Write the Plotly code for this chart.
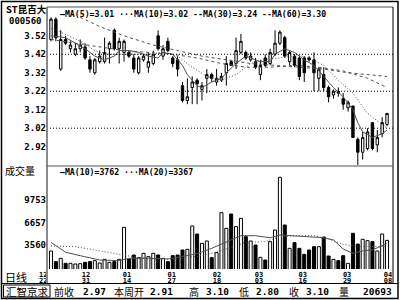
import plotly.graph_objects as go

# ---------------- data ----------------
stock_name = "ST昆百大"
stock_code = "000560"

opens = [3.50, 3.61, 3.34, 3.50, 3.45, 3.42, 3.45, 3.46, 3.39, 3.32,
         3.38, 3.38, 3.45, 3.55, 3.45, 3.43, 3.43, 3.40, 3.32, 3.39,
         3.35, 3.37, 3.52, 3.41, 3.49, 3.40, 3.39, 3.25, 3.17, 3.24,
         3.28, 3.23, 3.29, 3.31, 3.27, 3.28, 3.32, 3.38, 3.37, 3.43,
         3.43, 3.39, 3.38, 3.31, 3.40, 3.37, 3.42, 3.48, 3.51, 3.38,
         3.41, 3.40, 3.40, 3.40, 3.39, 3.29, 3.31, 3.24, 3.20, 3.22,
         3.18, 3.13, 3.14, 2.96, 2.89, 2.91, 3.05, 2.93, 2.99, 3.04]
highs = [3.62, 3.62, 3.55, 3.52, 3.49, 3.48, 3.50, 3.48, 3.41, 3.40,
         3.44, 3.51, 3.49, 3.56, 3.51, 3.50, 3.44, 3.42, 3.41, 3.42,
         3.43, 3.44, 3.55, 3.47, 3.51, 3.41, 3.41, 3.27, 3.29, 3.30,
         3.29, 3.27, 3.34, 3.32, 3.34, 3.32, 3.41, 3.39, 3.51, 3.53,
         3.44, 3.43, 3.40, 3.39, 3.42, 3.45, 3.55, 3.55, 3.52, 3.44,
         3.42, 3.41, 3.41, 3.41, 3.43, 3.35, 3.35, 3.25, 3.23, 3.24,
         3.21, 3.17, 3.14, 2.97, 3.00, 3.02, 3.05, 3.01, 3.08, 3.10]
lows = [3.49, 3.49, 3.33, 3.47, 3.43, 3.41, 3.43, 3.39, 3.32, 3.31,
        3.37, 3.37, 3.37, 3.44, 3.37, 3.38, 3.40, 3.32, 3.31, 3.38,
        3.32, 3.36, 3.44, 3.39, 3.43, 3.35, 3.30, 3.16, 3.15, 3.15,
        3.15, 3.17, 3.21, 3.27, 3.25, 3.27, 3.25, 3.36, 3.34, 3.42,
        3.39, 3.38, 3.34, 3.28, 3.35, 3.36, 3.41, 3.47, 3.40, 3.36,
        3.35, 3.28, 3.27, 3.38, 3.22, 3.22, 3.22, 3.16, 3.18, 3.19,
        3.12, 3.11, 2.97, 2.82, 2.85, 2.90, 2.90, 2.89, 2.97, 3.03]
closes = [3.61, 3.51, 3.50, 3.48, 3.47, 3.45, 3.47, 3.40, 3.34, 3.39,
          3.41, 3.43, 3.48, 3.45, 3.49, 3.49, 3.41, 3.34, 3.40, 3.41,
          3.38, 3.42, 3.45, 3.45, 3.44, 3.37, 3.34, 3.17, 3.19, 3.27,
          3.26, 3.25, 3.31, 3.29, 3.29, 3.30, 3.37, 3.36, 3.44, 3.49,
          3.40, 3.41, 3.35, 3.36, 3.36, 3.43, 3.48, 3.54, 3.41, 3.43,
          3.36, 3.30, 3.32, 3.39, 3.32, 3.34, 3.24, 3.19, 3.22, 3.21,
          3.15, 3.16, 2.97, 2.89, 2.97, 3.00, 2.91, 2.97, 3.05, 3.10]
volumes = [2734, 1266, 1724, 1037, 1037, 945, 991, 1174, 1266, 1403,
           1083, 1587, 1174, 1266, 1587, 5990, 1633, 2183, 1816, 2413,
           1954, 2413, 2183, 1724, 1266, 2091, 2183, 2871, 2963, 6174,
           5073, 3788, 4110, 1816, 2504, 8009, 5853, 7825, 6082, 7229,
           4706, 4110, 3560, 1862, 1495, 4018, 5623, 12871, 6311, 3101,
           3880, 3101, 2275, 2871, 3330, 3330, 4660, 2046, 1587, 1403,
           2091, 1037, 5165, 3697, 4339, 4155, 4018, 2734, 5073, 4201]

# moving averages (bar index, value)
ma5_idx = [0, 3, 5, 7, 9, 11, 13, 14, 16, 18, 20, 22, 23, 25, 27, 28, 30, 31, 33, 35,
           36, 38, 40, 42, 43, 45, 46, 48, 50, 52, 54, 56, 58, 60, 62, 63, 64, 66, 68, 69]
ma5_val = [3.52, 3.51, 3.48, 3.45, 3.41, 3.39, 3.41, 3.44, 3.44, 3.43, 3.41, 3.40, 3.43, 3.42,
           3.36, 3.31, 3.25, 3.24, 3.27, 3.29, 3.32, 3.37, 3.41, 3.39, 3.38, 3.38, 3.42, 3.45,
           3.43, 3.39, 3.36, 3.30, 3.24, 3.19, 3.12, 3.05, 3.00, 2.97, 2.99, 3.01]
ma10_idx = [0, 2, 6, 9, 12, 16, 20, 23, 26, 29, 32, 35, 38, 41, 44, 47, 50, 53, 56, 59, 62, 65, 69]
ma10_val = [3.56, 3.54, 3.49, 3.44, 3.42, 3.42, 3.42, 3.43, 3.41, 3.35, 3.30, 3.28, 3.31, 3.37,
            3.39, 3.40, 3.42, 3.40, 3.36, 3.28, 3.21, 3.10, 3.02]
ma30_idx = [0, 5, 10, 15, 20, 25, 30, 35, 40, 45, 50, 55, 60, 65, 69]
ma30_val = [3.50, 3.48, 3.46, 3.44, 3.43, 3.42, 3.40, 3.37, 3.35, 3.35, 3.36, 3.35, 3.33, 3.29, 3.24]
ma60_idx = [6, 10, 15, 21, 26, 31, 36, 41, 46, 51, 56, 61, 66, 69]
ma60_val = [3.62, 3.57, 3.52, 3.47, 3.44, 3.41, 3.39, 3.37, 3.36, 3.35, 3.34, 3.32, 3.31, 3.30]

vma10_idx = [0, 3, 6, 10, 14, 16, 20, 24, 27, 30, 33, 36, 39, 42, 45, 47, 50, 53, 56, 58,
             60, 62, 64, 66, 69]
vma10_val = [3930, 2560, 2090, 1500, 1400, 1730, 1730, 1630, 2000, 2360, 3100, 3930, 4840,
             4840, 4560, 4940, 4840, 4750, 4560, 4250, 3010, 2420, 2740, 2880, 3762]
vma20_idx = [0, 5, 10, 14, 18, 22, 26, 30, 33, 36, 40, 44, 47, 50, 54, 57, 60, 63, 66, 69]
vma20_val = [3420, 3330, 2740, 2280, 1820, 1630, 1630, 2000, 2420, 3010, 3930, 4020, 4700,
             4840, 4840, 4390, 3650, 3330, 3330, 3367]

price_ticks = [3.52, 3.42, 3.32, 3.22, 3.12, 3.02, 2.92]
price_grid = [3.42, 3.22, 3.02]
vol_ticks = [3560, 6657, 9753]

date_months = ["12", "12", "01", "01", "02", "03", "03", "03", "04"]
date_days = ["22", "31", "14", "27", "18", "03", "16", "29", "08"]
date_pos = [-1.6, 7.2, 15.6, 24.8, 34.1, 42.7, 51.7, 60.8, 69.2]

price_legend = "—MA(5)=3.01 ···MA(10)=3.02 --MA(30)=3.24 --MA(60)=3.30"
vol_legend = "—MA(10)=3762 ···MA(20)=3367"

status_labels = ["前收", "本周开", "高", "低", "收", "量"]
status_values = ["2.97", "2.91", "3.10", "2.80", "3.10", "20693"]

# ---------------- geometry (pixels) ----------------
W, H = 400, 300
PX0, PX1 = 47, 393
PY0, PY1 = 7, 166
VY1 = 269
BAR0, STEP = 51, 4.87
P_REF, P_REF_Y, P_PER = 3.52, 35.8, 184.8
V_REF, V_REF_Y, V_PER = 3560, 245, 137.6


def fx(p):
    return p / W


def fy(p):
    return 1 - p / H


n = len(closes)
xs = list(range(n))
x_range = [(PX0 - BAR0) / STEP, (PX1 - BAR0) / STEP]
full_range = [(0 - BAR0) / STEP, (W - BAR0) / STEP]
p_range = [P_REF - (PY1 - P_REF_Y) / P_PER, P_REF + (P_REF_Y - PY0) / P_PER]
v_range = [V_REF - (VY1 - V_REF_Y) * V_PER, V_REF + (V_REF_Y - PY1) * V_PER]

MONO = "DejaVu Sans Mono"
CJK = "Noto Sans CJK SC"
LINEC = "#505050"

fig = go.Figure()

fig.add_trace(go.Candlestick(
    x=xs, open=opens, high=highs, low=lows, close=closes,
    increasing=dict(line=dict(color="black", width=1), fillcolor="white"),
    decreasing=dict(line=dict(color="black", width=1), fillcolor="black"),
    whiskerwidth=0, xaxis="x", yaxis="y", showlegend=False, hoverinfo="skip"))

for ix, val, dash in [(ma5_idx, ma5_val, "solid"), (ma10_idx, ma10_val, "1px,2px"),
                      (ma30_idx, ma30_val, "3px,3px"), (ma60_idx, ma60_val, "3px,3px")]:
    fig.add_trace(go.Scatter(x=ix, y=val, mode="lines", xaxis="x", yaxis="y",
                             line=dict(color=LINEC, width=1, dash=dash),
                             showlegend=False, hoverinfo="skip"))

vcolors = ["white" if c >= o else "black" for o, c in zip(opens, closes)]
fig.add_trace(go.Bar(x=xs, y=volumes, width=0.62, xaxis="x2", yaxis="y2",
                     marker=dict(color=vcolors, line=dict(color="black", width=1)),
                     showlegend=False, hoverinfo="skip"))
for ix, val, dash in [(vma10_idx, vma10_val, "solid"), (vma20_idx, vma20_val, "1px,2px")]:
    fig.add_trace(go.Scatter(x=ix, y=val, mode="lines", xaxis="x2", yaxis="y2",
                             line=dict(color=LINEC, width=1, dash=dash),
                             showlegend=False, hoverinfo="skip"))

# carriers for the two date-label rows
for ax in ["x3", "x4"]:
    fig.add_trace(go.Scatter(x=date_pos, y=[None] * len(date_pos), xaxis=ax, yaxis="y2",
                             mode="markers", showlegend=False, hoverinfo="skip"))

noax = dict(showgrid=False, zeroline=False, showline=False, fixedrange=True)
tickf = dict(family=MONO, size=9, color="black")
datef = dict(family=MONO, size=7, color="black")

fig.update_layout(
    width=W, height=H, margin=dict(l=0, r=0, t=0, b=0),
    paper_bgcolor="white", plot_bgcolor="rgba(0,0,0,0)", showlegend=False,
    xaxis=dict(domain=[fx(PX0), fx(PX1)], range=x_range, anchor="y", showticklabels=False,
               rangeslider=dict(visible=False), **noax),
    yaxis=dict(domain=[fy(PY1), fy(PY0)], range=p_range, anchor="x",
               tickvals=price_ticks, ticktext=[f"<b>{v:.2f}</b>" for v in price_ticks],
               tickfont=tickf, ticks="", **noax),
    xaxis2=dict(domain=[fx(PX0), fx(PX1)], range=x_range, anchor="y2", matches="x",
                showticklabels=False, **noax),
    yaxis2=dict(domain=[fy(VY1), fy(PY1)], range=v_range, anchor="x2",
                tickvals=vol_ticks, ticktext=[f"<b>{v}</b>" for v in vol_ticks],
                tickfont=tickf, ticks="", **noax),
    xaxis3=dict(domain=[0, 1], range=full_range, anchor="free", position=fy(268.5),
                tickvals=date_pos, ticktext=[f"<b>{m}</b>" for m in date_months],
                tickfont=datef, ticks="", tickangle=0, **noax),
    xaxis4=dict(domain=[0, 1], range=full_range, anchor="free", position=fy(275),
                tickvals=date_pos, ticktext=[f"<b>{d}</b>" for d in date_days],
                tickfont=datef, ticks="", tickangle=0, **noax),
)

shapes = []
# dotted price grid
for g in price_grid:
    shapes.append(dict(type="line", xref="x domain", yref="y", x0=0, x1=1, y0=g, y1=g,
                       line=dict(color="black", width=1, dash="1px,2px")))
# frames
shapes += [
    dict(type="rect", xref="paper", yref="paper", x0=fx(1.5), x1=fx(398), y0=fy(298.5), y1=fy(1.5),
         line=dict(color="black", width=1.5)),
    dict(type="line", xref="paper", yref="paper", x0=fx(PX0), x1=fx(PX0), y0=fy(283), y1=fy(PY0),
         line=dict(color="#8a8a8a", width=2)),
    dict(type="line", xref="paper", yref="paper", x0=fx(PX0), x1=fx(PX1), y0=fy(PY0), y1=fy(PY0),
         line=dict(color="#555555", width=1)),
    dict(type="line", xref="paper", yref="paper", x0=fx(PX1), x1=fx(PX1), y0=fy(283), y1=fy(PY0),
         line=dict(color="black", width=1)),
    dict(type="line", xref="paper", yref="paper", x0=fx(PX0), x1=fx(PX1), y0=fy(PY1), y1=fy(PY1),
         line=dict(color="#555555", width=1)),
    dict(type="line", xref="paper", yref="paper", x0=fx(1.5), x1=fx(398), y0=fy(283.5), y1=fy(283.5),
         line=dict(color="black", width=1)),
    dict(type="rect", xref="paper", yref="paper", x0=fx(3.5), x1=fx(50), y0=fy(297), y1=fy(285),
         line=dict(color="black", width=1)),
]

ann = []


def text(x, y, s, font, xanchor="left"):
    ann.append(dict(xref="paper", yref="paper", x=fx(x), y=fy(y), text=s, showarrow=False,
                    xanchor=xanchor, yanchor="middle", font=font, borderpad=0))


text(5, 9, f"<b>{stock_name}</b>", dict(family=CJK, size=9.5, color="black"))
text(43, 21, f"<b>{stock_code}</b>", dict(family=MONO, size=9, color="black"), "right")
text(4, 170, "成交量", dict(family=CJK, size=10, color="black"))
text(4, 277, "日线", dict(family=CJK, size=11, color="black"))
text(59, 14, f"<b>{price_legend}</b>", dict(family=MONO, size=8.2, color="black"))
text(59, 172, f"<b>{vol_legend}</b>", dict(family=MONO, size=8.2, color="black"))
text(5, 291, "汇智京求", dict(family=CJK, size=10.5, color="black"))

label_x = [53, 113, 188, 238, 288, 338]
value_right = [107, 174, 230, 280, 330, 393]
for lx, lab, vr, val in zip(label_x, status_labels, value_right, status_values):
    text(lx, 291, lab, dict(family=CJK, size=10, color="black"))
    text(vr, 291, f"<b>{val}</b>", dict(family=MONO, size=9.5, color="black"), "right")

fig.update_layout(shapes=shapes, annotations=ann)
fig.write_html("out.html")
